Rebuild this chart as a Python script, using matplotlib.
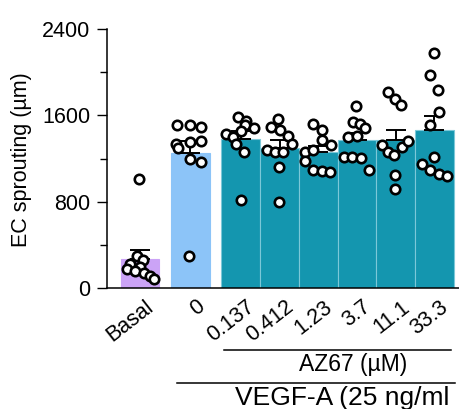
import matplotlib
matplotlib.use("Agg")
import matplotlib.pyplot as plt
import matplotlib.transforms as mtransforms
import numpy as np

plt.rcParams['font.family'] = ['Liberation Sans', 'DejaVu Sans']

# ---- data ----
categories = ["Basal", "0", "0.137", "0.412", "1.23", "3.7", "11.1", "33.3"]
basal = [1010, 300, 260, 220, 190, 175, 160, 140, 110, 85]
az0 = [1510, 1510, 1490, 1330, 1300, 1350, 1360, 1200, 1170, 300]
az0137 = [1583, 1546, 1506, 1485, 1453, 1429, 1398, 1337, 1259, 811]
az0412 = [1569, 1491, 1467, 1404, 1330, 1281, 1259, 1259, 1120, 795]
az123 = [1516, 1460, 1374, 1321, 1259, 1275, 1175, 1089, 1083, 1073]
az37 = [1685, 1537, 1522, 1481, 1398, 1404, 1213, 1213, 1207, 1098]
az111 = [1815, 1754, 1692, 1321, 1259, 1228, 1305, 1361, 1043, 920]
az333 = [2177, 1970, 1831, 1630, 1506, 1213, 1151, 1089, 1052, 1034]
groups = [basal, az0, az0137, az0412, az123, az37, az111, az333]

# horizontal scatter of the points (pixels at 38.7 px per bar)
jitter_px = [
    [-1, -3, 3, -10, 0, -13, -5, 4, 10, 14],
    [-13.3, -0.7, 10.7, -14, -12, 0, 11, 0, 11, -1],
    [-2.8, 5.5, 3.8, 13.2, 0.5, -14.5, -7.8, -4.5, 2.8, -0.2],
    [-1.3, -8.7, 0.3, 8, 12, -13, -4.7, 3.7, -0.7, -0.7],
    [-4.8, 3.5, 3.5, 12.8, -13.2, -4.8, -13.2, -4.8, 3.5, 11.8],
    [-1, -4.3, 3.3, 8.3, -9, 0, -13.3, -5, 4, 12.3],
    [-7.3, -0.7, 5.3, -14, -8, -1.3, 6, 12, -0.7, -0.7],
    [-0.2, -4.8, 3.5, 4.2, -4.2, -0.2, -12.5, -4.8, 4.2, 12.5],
]

colors = ["#CBA3F6", "#8CC4F8"] + ["#1496AF"] * 6
edgecols = ["#CBA3F6", "#8CC4F8"] + ["#7CC8D8"] * 6

# positions: first two bars separated by gaps, teal bars touching
xpos = [0, 1.3] + [2.6 + i for i in range(6)]

fig = plt.figure(figsize=(4.6, 4.09), dpi=100)
ax = fig.add_axes([107 / 460, 121 / 409, 353 / 460, 259 / 409])

means = [np.mean(g) for g in groups]
sems = [np.std(g, ddof=1) / np.sqrt(len(g)) for g in groups]

ax.bar(xpos, means, width=[0.99, 0.99] + [1.0] * 6, color=colors,
       edgecolor=edgecols, linewidth=0.8, zorder=1)
ax.errorbar(xpos, means, yerr=[np.zeros(len(means)), sems], fmt='none',
            ecolor='black', elinewidth=1.4, capsize=7, capthick=1.4, zorder=2)

for x, g, j in zip(xpos, groups, jitter_px):
    xs = x + np.array(j) / 38.7
    ax.scatter(xs, g, s=46, facecolor='white', edgecolor='black',
               linewidth=1.9, zorder=3, clip_on=False)

ax.set_xlim(-0.854, 8.26)
ax.set_ylim(0, 2400)
ax.set_yticks([0, 800, 1600, 2400])
ax.set_yticks([400, 1200, 2000], minor=True)
ax.tick_params(axis='y', which='major', length=7, width=1, labelsize=15.5, pad=5)
ax.tick_params(axis='y', which='minor', length=5, width=1)
ax.set_xticks(xpos)
ax.set_xticklabels(categories)
ax.tick_params(axis='x', length=0, labelsize=15.5, pad=6)
offset = mtransforms.ScaledTranslation(5 / 100, 0, fig.dpi_scale_trans)
for lab in ax.get_xticklabels():
    lab.set_rotation(38)
    lab.set_ha('right')
    lab.set_va('top')
    lab.set_rotation_mode('anchor')
    lab.set_transform(lab.get_transform() + offset)

for s in ['top', 'right']:
    ax.spines[s].set_visible(False)
for s in ['left', 'bottom']:
    ax.spines[s].set_linewidth(1.1)

fig.text(21.5 / 460, 1 - 160 / 409, "EC sprouting (µm)", rotation=90,
         ha='center', va='center', fontsize=15.5)

trans = mtransforms.blended_transform_factory(ax.transData, ax.transAxes)
ax.plot([2.17, 8.03], [-0.239, -0.239], color='black', lw=1.1,
        transform=trans, clip_on=False)
ax.text(5.5, -0.297, "AZ67 (µM)", transform=trans, ha='center', va='center',
        fontsize=16.5)
ax.plot([0.95, 8.14], [-0.368, -0.368], color='black', lw=1.1,
        transform=trans, clip_on=False)
ax.text(5.21, -0.425, "VEGF-A (25 ng/ml", transform=trans, ha='center',
        va='center', fontsize=19)

fig.savefig("out.png", dpi=100)
